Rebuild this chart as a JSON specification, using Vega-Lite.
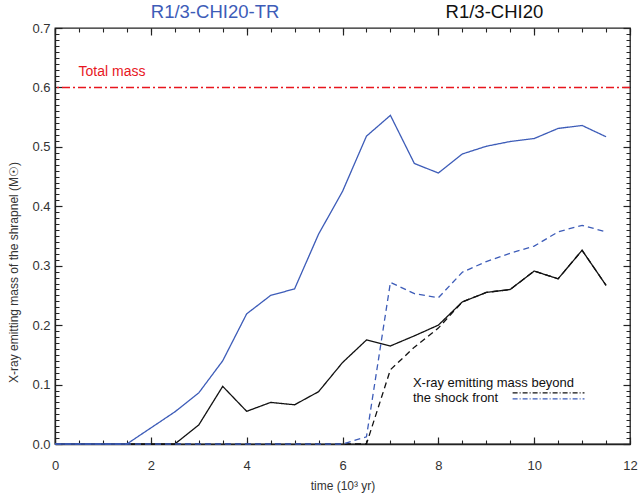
{
  "$schema": "https://vega.github.io/schema/vega-lite/v6.json",
  "width": 575,
  "height": 416,
  "autosize": {"type": "none"},
  "padding": {"left": 55, "top": 28, "right": 11, "bottom": 53},
  "background": "white",
  "config": {"view": {"stroke": "#222", "strokeWidth": 1.3}, "axis": {"grid": false}},
  "datasets": {
    "series": [
      {"s": "CHI20 total", "t": 0, "m": 0}, {"s": "CHI20 total", "t": 0.5, "m": 0}, {"s": "CHI20 total", "t": 1, "m": 0}, {"s": "CHI20 total", "t": 1.5, "m": 0}, {"s": "CHI20 total", "t": 2, "m": 0}, {"s": "CHI20 total", "t": 2.5, "m": 0},
      {"s": "CHI20 total", "t": 3, "m": 0.032}, {"s": "CHI20 total", "t": 3.5, "m": 0.097}, {"s": "CHI20 total", "t": 4, "m": 0.055}, {"s": "CHI20 total", "t": 4.5, "m": 0.07}, {"s": "CHI20 total", "t": 5, "m": 0.066}, {"s": "CHI20 total", "t": 5.5, "m": 0.088},
      {"s": "CHI20 total", "t": 6, "m": 0.137}, {"s": "CHI20 total", "t": 6.5, "m": 0.175}, {"s": "CHI20 total", "t": 7, "m": 0.165}, {"s": "CHI20 total", "t": 7.5, "m": 0.182}, {"s": "CHI20 total", "t": 8, "m": 0.2}, {"s": "CHI20 total", "t": 8.5, "m": 0.239},
      {"s": "CHI20 total", "t": 9, "m": 0.255}, {"s": "CHI20 total", "t": 9.5, "m": 0.26}, {"s": "CHI20 total", "t": 10, "m": 0.291}, {"s": "CHI20 total", "t": 10.5, "m": 0.278}, {"s": "CHI20 total", "t": 11, "m": 0.326}, {"s": "CHI20 total", "t": 11.5, "m": 0.267},
      {"s": "CHI20 beyond", "t": 0, "m": 0}, {"s": "CHI20 beyond", "t": 0.5, "m": 0}, {"s": "CHI20 beyond", "t": 1, "m": 0}, {"s": "CHI20 beyond", "t": 1.5, "m": 0}, {"s": "CHI20 beyond", "t": 2, "m": 0}, {"s": "CHI20 beyond", "t": 2.5, "m": 0},
      {"s": "CHI20 beyond", "t": 3, "m": 0}, {"s": "CHI20 beyond", "t": 3.5, "m": 0}, {"s": "CHI20 beyond", "t": 4, "m": 0}, {"s": "CHI20 beyond", "t": 4.5, "m": 0}, {"s": "CHI20 beyond", "t": 5, "m": 0}, {"s": "CHI20 beyond", "t": 5.5, "m": 0},
      {"s": "CHI20 beyond", "t": 6, "m": 0}, {"s": "CHI20 beyond", "t": 6.5, "m": 0}, {"s": "CHI20 beyond", "t": 7, "m": 0.125}, {"s": "CHI20 beyond", "t": 7.5, "m": 0.163}, {"s": "CHI20 beyond", "t": 8, "m": 0.195}, {"s": "CHI20 beyond", "t": 8.5, "m": 0.239},
      {"s": "CHI20 beyond", "t": 9, "m": 0.255}, {"s": "CHI20 beyond", "t": 9.5, "m": 0.26}, {"s": "CHI20 beyond", "t": 10, "m": 0.291}, {"s": "CHI20 beyond", "t": 10.5, "m": 0.278}, {"s": "CHI20 beyond", "t": 11, "m": 0.326}, {"s": "CHI20 beyond", "t": 11.5, "m": 0.267},
      {"s": "CHI20-TR total", "t": 0, "m": 0}, {"s": "CHI20-TR total", "t": 0.5, "m": 0}, {"s": "CHI20-TR total", "t": 1, "m": 0}, {"s": "CHI20-TR total", "t": 1.5, "m": 0}, {"s": "CHI20-TR total", "t": 2, "m": 0.027}, {"s": "CHI20-TR total", "t": 2.5, "m": 0.054},
      {"s": "CHI20-TR total", "t": 3, "m": 0.086}, {"s": "CHI20-TR total", "t": 3.5, "m": 0.14}, {"s": "CHI20-TR total", "t": 4, "m": 0.219}, {"s": "CHI20-TR total", "t": 4.5, "m": 0.25}, {"s": "CHI20-TR total", "t": 5, "m": 0.261}, {"s": "CHI20-TR total", "t": 5.5, "m": 0.353},
      {"s": "CHI20-TR total", "t": 6, "m": 0.425}, {"s": "CHI20-TR total", "t": 6.5, "m": 0.518}, {"s": "CHI20-TR total", "t": 7, "m": 0.553}, {"s": "CHI20-TR total", "t": 7.5, "m": 0.472}, {"s": "CHI20-TR total", "t": 8, "m": 0.456}, {"s": "CHI20-TR total", "t": 8.5, "m": 0.488},
      {"s": "CHI20-TR total", "t": 9, "m": 0.501}, {"s": "CHI20-TR total", "t": 9.5, "m": 0.509}, {"s": "CHI20-TR total", "t": 10, "m": 0.514}, {"s": "CHI20-TR total", "t": 10.5, "m": 0.531}, {"s": "CHI20-TR total", "t": 11, "m": 0.536}, {"s": "CHI20-TR total", "t": 11.5, "m": 0.517},
      {"s": "CHI20-TR beyond", "t": 0, "m": 0}, {"s": "CHI20-TR beyond", "t": 0.5, "m": 0}, {"s": "CHI20-TR beyond", "t": 1, "m": 0}, {"s": "CHI20-TR beyond", "t": 1.5, "m": 0}, {"s": "CHI20-TR beyond", "t": 2, "m": 0}, {"s": "CHI20-TR beyond", "t": 2.5, "m": 0},
      {"s": "CHI20-TR beyond", "t": 3, "m": 0}, {"s": "CHI20-TR beyond", "t": 3.5, "m": 0}, {"s": "CHI20-TR beyond", "t": 4, "m": 0}, {"s": "CHI20-TR beyond", "t": 4.5, "m": 0}, {"s": "CHI20-TR beyond", "t": 5, "m": 0}, {"s": "CHI20-TR beyond", "t": 5.5, "m": 0},
      {"s": "CHI20-TR beyond", "t": 6, "m": 0}, {"s": "CHI20-TR beyond", "t": 6.5, "m": 0.012}, {"s": "CHI20-TR beyond", "t": 7, "m": 0.272}, {"s": "CHI20-TR beyond", "t": 7.5, "m": 0.253}, {"s": "CHI20-TR beyond", "t": 8, "m": 0.246}, {"s": "CHI20-TR beyond", "t": 8.5, "m": 0.289},
      {"s": "CHI20-TR beyond", "t": 9, "m": 0.307}, {"s": "CHI20-TR beyond", "t": 9.5, "m": 0.321}, {"s": "CHI20-TR beyond", "t": 10, "m": 0.333}, {"s": "CHI20-TR beyond", "t": 10.5, "m": 0.357}, {"s": "CHI20-TR beyond", "t": 11, "m": 0.368}, {"s": "CHI20-TR beyond", "t": 11.5, "m": 0.357}
    ],
    "one": [{}]
  },
  "resolve": {"axis": {"x": "independent", "y": "independent"}},
  "layer": [
    {
      "data": {"name": "series"},
      "mark": {"type": "line", "strokeWidth": 1.3},
      "encoding": {
        "x": {"field": "t", "type": "quantitative", "scale": {"domain": [0, 12], "nice": false, "zero": false},
          "axis": {"orient": "bottom", "values": [0, 2, 4, 6, 8, 10, 12], "ticks": false, "domainColor": "#222", "domainWidth": 1.3, "labelColor": "#333", "labelFont": "Liberation Sans", "labelFontSize": 13, "labelPadding": 15, "title": "time (10³ yr)", "titleColor": "#333", "titleFont": "Liberation Sans", "titleFontWeight": "normal", "titleFontSize": 12, "titlePadding": 8, "labelFlush": false}},
        "y": {"field": "m", "type": "quantitative", "scale": {"domain": [0, 0.7], "nice": false, "zero": false},
          "axis": {"orient": "left", "values": [0, 0.1, 0.2, 0.3, 0.4, 0.5, 0.6, 0.7], "format": ".1f", "ticks": false, "domainColor": "#222", "domainWidth": 1.3, "labelColor": "#333", "labelFont": "Liberation Sans", "labelFontSize": 13, "labelPadding": 5, "title": "X-ray emitting mass of the shrapnel (M☉)", "titleColor": "#333", "titleFont": "Liberation Sans", "titleFontWeight": "normal", "titleFontSize": 12, "titleX": -42, "titleY": 244, "titleBaseline": "middle", "titleAlign": "center", "labelFlush": false}},
        "color": {"field": "s", "type": "nominal", "legend": null,
          "scale": {"domain": ["CHI20 total", "CHI20 beyond", "CHI20-TR total", "CHI20-TR beyond"], "range": ["#111111", "#111111", "#3d5cb8", "#3d5cb8"]}},
        "strokeDash": {"field": "s", "type": "nominal", "legend": null,
          "scale": {"domain": ["CHI20 total", "CHI20 beyond", "CHI20-TR total", "CHI20-TR beyond"], "range": [[1, 0], [6, 4], [1, 0], [6, 4]]}},
        "detail": {"field": "s"}
      }
    },
    {
      "data": {"name": "series"},
      "mark": {"type": "point", "opacity": 0},
      "encoding": {
        "x": {"field": "t", "type": "quantitative", "axis": {"orient": "bottom", "offset": -7, "tickCount": 6, "tickSize": 7, "tickColor": "#222", "tickWidth": 1.2, "labels": false, "title": null, "domain": false}},
        "y": {"field": "m", "type": "quantitative", "axis": {"orient": "left", "offset": -7, "tickCount": 7, "tickSize": 7, "tickColor": "#222", "tickWidth": 1.2, "labels": false, "title": null, "domain": false}}
      }
    },
    {
      "data": {"name": "series"},
      "mark": {"type": "point", "opacity": 0},
      "encoding": {
        "x": {"field": "t", "type": "quantitative", "axis": {"orient": "bottom", "offset": -4, "tickCount": 24, "tickSize": 4, "tickColor": "#222", "tickWidth": 1.1, "labels": false, "title": null, "domain": false}},
        "y": {"field": "m", "type": "quantitative", "axis": {"orient": "left", "offset": -4, "tickCount": 70, "tickSize": 4, "tickColor": "#222", "tickWidth": 1, "labels": false, "title": null, "domain": false}}
      }
    },
    {
      "data": {"name": "series"},
      "mark": {"type": "point", "opacity": 0},
      "encoding": {
        "x": {"field": "t", "type": "quantitative", "axis": {"orient": "top", "offset": -7, "tickCount": 6, "tickSize": 7, "tickColor": "#222", "tickWidth": 1.2, "labels": false, "title": null, "domain": false}},
        "y": {"field": "m", "type": "quantitative", "axis": {"orient": "right", "offset": -7, "tickCount": 7, "tickSize": 7, "tickColor": "#222", "tickWidth": 1.2, "labels": false, "title": null, "domain": false}}
      }
    },
    {
      "data": {"name": "series"},
      "mark": {"type": "point", "opacity": 0},
      "encoding": {
        "x": {"field": "t", "type": "quantitative", "axis": {"orient": "top", "offset": -4, "tickCount": 24, "tickSize": 4, "tickColor": "#222", "tickWidth": 1.1, "labels": false, "title": null, "domain": false}},
        "y": {"field": "m", "type": "quantitative", "axis": {"orient": "right", "offset": -4, "tickCount": 70, "tickSize": 4, "tickColor": "#222", "tickWidth": 1, "labels": false, "title": null, "domain": false}}
      }
    },
    {
      "data": {"name": "one"},
      "mark": {"type": "rule", "color": "#e8161e", "strokeWidth": 1.4, "strokeDash": [8, 3, 2, 3]},
      "encoding": {"y": {"datum": 0.6, "type": "quantitative", "axis": null}}
    },
    {
      "data": {"name": "one"},
      "mark": {"type": "text", "color": "#e8161e", "fontSize": 14, "font": "Liberation Sans", "align": "center", "baseline": "middle"},
      "encoding": {"x": {"datum": 1.19, "type": "quantitative", "axis": null}, "y": {"datum": 0.626, "type": "quantitative", "axis": null}, "text": {"value": "Total mass"}}
    },
    {
      "data": {"name": "one"},
      "mark": {"type": "text", "color": "#3d5cb8", "fontSize": 18.5, "font": "Liberation Sans", "align": "center", "baseline": "middle", "clip": false},
      "encoding": {"x": {"datum": 3.34, "type": "quantitative", "axis": null}, "y": {"datum": 0.727, "type": "quantitative", "axis": null}, "text": {"value": "R1/3-CHI20-TR"}}
    },
    {
      "data": {"name": "one"},
      "mark": {"type": "text", "color": "#111111", "fontSize": 18.5, "font": "Liberation Sans", "align": "center", "baseline": "middle", "clip": false},
      "encoding": {"x": {"datum": 9.17, "type": "quantitative", "axis": null}, "y": {"datum": 0.727, "type": "quantitative", "axis": null}, "text": {"value": "R1/3-CHI20"}}
    },
    {
      "data": {"name": "one"},
      "mark": {"type": "text", "color": "#111111", "fontSize": 13, "font": "Liberation Sans", "align": "left", "baseline": "middle"},
      "encoding": {"x": {"datum": 7.47, "type": "quantitative", "axis": null}, "y": {"datum": 0.103, "type": "quantitative", "axis": null}, "text": {"value": "X-ray emitting mass beyond"}}
    },
    {
      "data": {"name": "one"},
      "mark": {"type": "text", "color": "#111111", "fontSize": 13, "font": "Liberation Sans", "align": "left", "baseline": "middle"},
      "encoding": {"x": {"datum": 7.47, "type": "quantitative", "axis": null}, "y": {"datum": 0.077, "type": "quantitative", "axis": null}, "text": {"value": "the shock front"}}
    },
    {
      "data": {"name": "one"},
      "mark": {"type": "rule", "color": "#111111", "strokeWidth": 1.2, "strokeDash": [5, 2, 1, 2]},
      "encoding": {"x": {"datum": 9.55, "type": "quantitative", "axis": null}, "x2": {"datum": 11.05}, "y": {"datum": 0.086, "type": "quantitative", "axis": null}}
    },
    {
      "data": {"name": "one"},
      "mark": {"type": "rule", "color": "#3d5cb8", "strokeWidth": 1.2, "strokeDash": [5, 2, 1, 2]},
      "encoding": {"x": {"datum": 9.55, "type": "quantitative", "axis": null}, "x2": {"datum": 11.05}, "y": {"datum": 0.076, "type": "quantitative", "axis": null}}
    }
  ]
}
